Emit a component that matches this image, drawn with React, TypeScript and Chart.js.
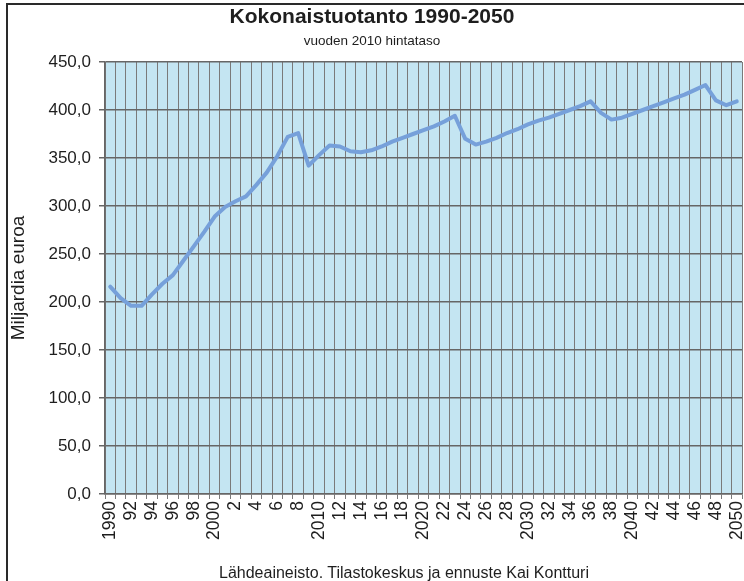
import React, { useEffect, useRef } from "react";
import { Chart, registerables } from "chart.js";

Chart.register(...registerables);

const years = [
  "1990", "1991", "1992", "1993", "1994", "1995", "1996", "1997", "1998", "1999",
  "2000", "2001", "2002", "2003", "2004", "2005", "2006", "2007", "2008", "2009",
  "2010", "2011", "2012", "2013", "2014", "2015", "2016", "2017", "2018", "2019",
  "2020", "2021", "2022", "2023", "2024", "2025", "2026", "2027", "2028", "2029",
  "2030", "2031", "2032", "2033", "2034", "2035", "2036", "2037", "2038", "2039",
  "2040", "2041", "2042", "2043", "2044", "2045", "2046", "2047", "2048", "2049",
  "2050",
];

const xTickLabels = [
  "1990", "", "92", "", "94", "", "96", "", "98", "",
  "2000", "", "2", "", "4", "", "6", "", "8", "",
  "2010", "", "12", "", "14", "", "16", "", "18", "",
  "2020", "", "22", "", "24", "", "26", "", "28", "",
  "2030", "", "32", "", "34", "", "36", "", "38", "",
  "2040", "", "42", "", "44", "", "46", "", "48", "",
  "2050",
];

const production = [
  216, 204, 196, 196, 208, 219, 228, 243, 258, 273,
  289, 299, 305, 310, 322, 335, 352, 372, 376, 342,
  353, 363, 362, 357, 356, 358, 362, 367, 371, 375,
  379, 383, 388, 394, 370, 364, 367, 371, 376, 380,
  385, 389, 392, 396, 400, 404, 409, 397, 390, 392,
  396, 400, 404, 408, 412, 416, 421, 426, 410, 405,
  409,
];

const chartTitle = "Kokonaistuotanto 1990-2050";
const chartSubtitle = "vuoden 2010 hintataso";
const yAxisTitle = "Miljardia euroa";
const sourceNote = "Lähdeaineisto. Tilastokeskus ja ennuste Kai Kontturi";

const FONT = "'Liberation Sans', Arial, Helvetica, sans-serif";

const plotBackground = {
  id: "plotBackground",
  beforeDraw(chart: any) {
    const { ctx, chartArea } = chart;
    if (!chartArea) return;
    ctx.save();
    ctx.fillStyle = "#c4e5f2";
    ctx.fillRect(chartArea.left, chartArea.top, chartArea.right - chartArea.left, chartArea.bottom - chartArea.top);
    ctx.restore();
  },
};

export default function App() {
  const canvasRef = useRef<HTMLCanvasElement | null>(null);

  useEffect(() => {
    if (!canvasRef.current) return;
    const chart = new Chart(canvasRef.current, {
      type: "line",
      data: {
        labels: years,
        datasets: [
          {
            data: production,
            borderColor: "#76a0da",
            borderWidth: 4,
            pointRadius: 0,
            tension: 0,
            fill: false,
            borderJoinStyle: "round",
            borderCapStyle: "round",
          },
        ],
      },
      options: {
        animation: false,
        responsive: false,
        layout: { padding: { top: 62, left: 0, right: 2, bottom: 0 } },
        plugins: {
          legend: { display: false },
          tooltip: { enabled: false },
          title: { display: false },
        },
        scales: {
          x: {
            type: "category",
            offset: true,
            grid: {
              offset: true,
              color: "#7a7a7a",
              lineWidth: 1,
              tickLength: 5,
              drawTicks: true,
            },
            border: { color: "#666666", width: 1.5 },
            ticks: {
              autoSkip: false,
              maxRotation: 90,
              minRotation: 90,
              padding: 2,
              color: "#1e1e1e",
              font: { family: FONT, size: 17.5 },
              callback: (_v: any, i: number) => xTickLabels[i],
            },
            afterFit: (s: any) => {
              s.height = 87;
              s.paddingLeft = 0;
              s.paddingRight = 0;
            },
          },
          y: {
            min: 0,
            max: 450,
            ticks: {
              stepSize: 50,
              padding: 8,
              color: "#1e1e1e",
              font: { family: FONT, size: 17 },
              callback: (v: any) => Number(v).toFixed(1).replace(".", ","),
            },
            grid: { color: "#666666", lineWidth: 1.5, tickLength: 6 },
            border: { color: "#666666", width: 1.5 },
            title: {
              display: true,
              text: yAxisTitle,
              color: "#1e1e1e",
              font: { family: FONT, size: 19 },
              padding: { top: 7, bottom: 0 },
            },
            afterFit: (s: any) => {
              s.width = 105;
              s.paddingTop = 0;
              s.paddingBottom = 0;
            },
          },
        },
      },
      plugins: [plotBackground],
    } as any);
    return () => chart.destroy();
  }, []);

  return (
    <div
      style={{
        position: "absolute",
        left: 0,
        top: 0,
        width: 744,
        height: 581,
        overflow: "hidden",
        background: "#ffffff",
        fontFamily: FONT,
        color: "#1e1e1e",
      }}
    >
      <canvas ref={canvasRef} width={744} height={581} style={{ position: "absolute", left: 0, top: 0 }} />
      <div
        style={{
          position: "absolute",
          left: 6,
          top: 3,
          width: 800,
          height: 700,
          borderLeft: "2px solid #2a2a2a",
          borderTop: "2px solid #2a2a2a",
          pointerEvents: "none",
        }}
      />
      <div
        style={{
          position: "absolute",
          left: 0,
          width: 744,
          top: 5,
          textAlign: "center",
          fontSize: 21,
          lineHeight: "21px",
          fontWeight: "bold",
          whiteSpace: "nowrap",
        }}
      >
        {chartTitle}
      </div>
      <div
        style={{
          position: "absolute",
          left: 0,
          width: 744,
          top: 34,
          textAlign: "center",
          fontSize: 13.5,
          lineHeight: "14px",
          whiteSpace: "nowrap",
        }}
      >
        {chartSubtitle}
      </div>
      <div
        style={{
          position: "absolute",
          left: 104,
          width: 600,
          top: 565,
          textAlign: "center",
          fontSize: 16,
          lineHeight: "16px",
          whiteSpace: "nowrap",
        }}
      >
        {sourceNote}
      </div>
    </div>
  );
}
